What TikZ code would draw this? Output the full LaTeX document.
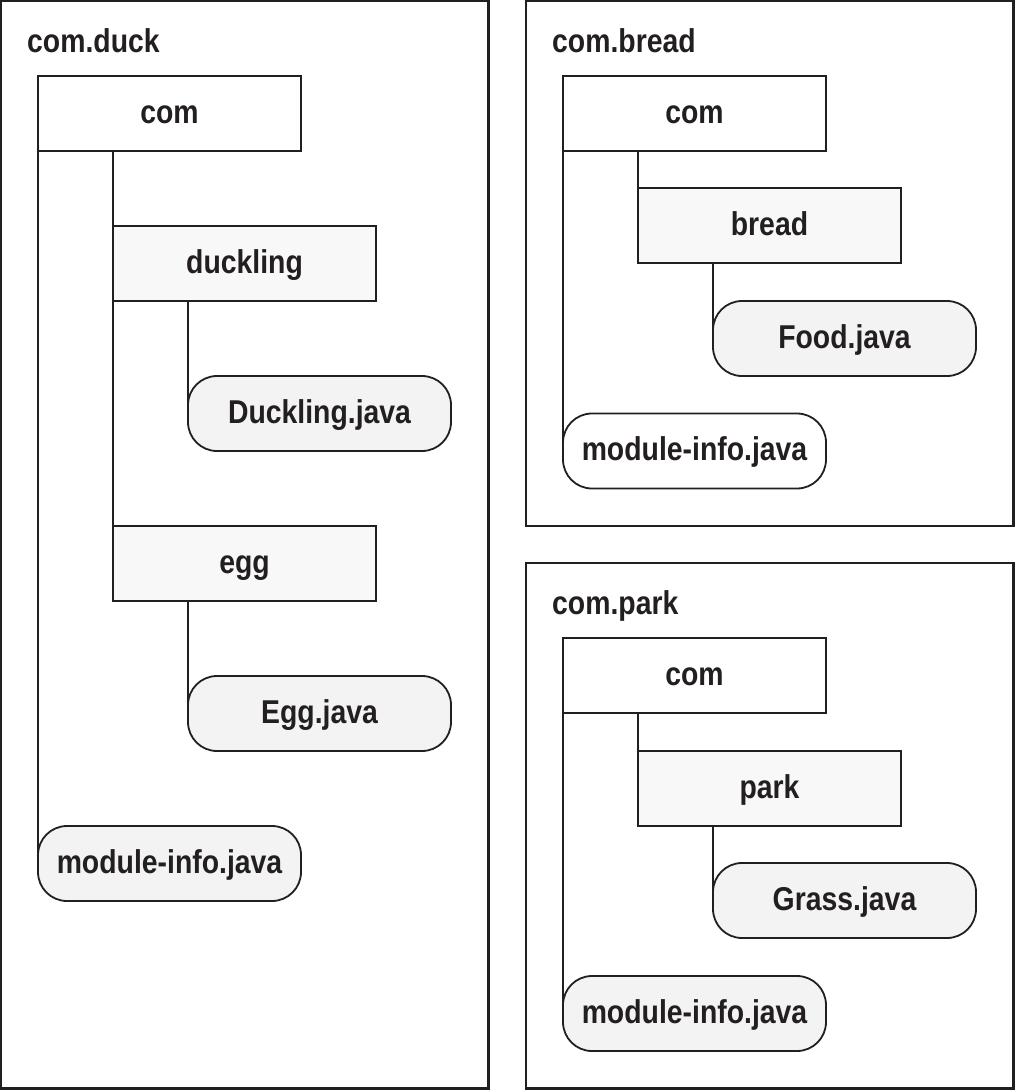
\documentclass[tikz,border=0pt]{standalone}
\usepackage{fontspec}
\setmainfont{Liberation Sans}[FakeStretch=0.86]
\usetikzlibrary{backgrounds}
\definecolor{rectfill}{HTML}{F8F8F8}
\definecolor{pillfill}{HTML}{F3F3F3}
\definecolor{ink}{HTML}{231F20}
\begin{document}
\begin{tikzpicture}[x=1pt,y=-1pt,
  every node/.style={font=\fontsize{33}{38}\selectfont\bfseries, text=ink},
  frame/.style={draw=ink, line width=2.2pt},
  dirbox/.style={draw=ink, fill=white, line width=1.8pt, minimum width=263pt, minimum height=75pt,
    inner sep=0pt, outer sep=0pt, text height=19pt, text depth=0pt},
  pkgbox/.style={dirbox, fill=rectfill},
  filepill/.style={dirbox, rounded corners=29pt, fill=pillfill},
  whitepill/.style={dirbox, rounded corners=29pt, fill=white},
  title/.style={anchor=base west, inner sep=0pt},
  link/.style={draw=ink, line width=1.3pt}]
\useasboundingbox (0,0) rectangle (1015,1090);

% frames
\draw[frame] (1.1,1.1) rectangle (488.5,1088.5);
\draw[frame] (526,1.1) rectangle (1013.5,526);
\draw[frame] (526,563) rectangle (1013.5,1088.5);

% titles
\node[title] (tduck) at (27,52) {com.duck};
\node[title] (tbread) at (552,52) {com.bread};
\node[title] (tpark) at (552,614) {com.park};

% com.duck
\node[dirbox]   (dcom)  at (169.5,113.5) {com};
\node[pkgbox]   (dduck) at (244.5,263.5) {duckling};
\node[filepill] (djava) at (319.5,413.5) {Duckling.java};
\node[pkgbox]   (degg)  at (244.5,563.5) {egg};
\node[filepill] (deggj) at (319.5,713.5) {Egg.java};
\node[filepill] (dmod)  at (169.5,863.5) {module-info.java};

% com.bread
\node[dirbox]    (bcom)   at (694.5,113.5) {com};
\node[pkgbox]    (bbread) at (769.5,225.5) {bread};
\node[filepill]  (bfood)  at (844.5,338.5) {Food.java};
\node[whitepill] (bmod)   at (694.5,451)   {module-info.java};

% com.park
\node[dirbox]   (pcom)   at (694.5,675.5)  {com};
\node[pkgbox]   (ppark)  at (769.5,788.5)  {park};
\node[filepill] (pgrass) at (844.5,900.5)  {Grass.java};
\node[filepill] (pmod)   at (694.5,1013.5) {module-info.java};

\begin{pgfonlayer}{background}
  \fill[white] (0,0) rectangle (1015,1090);
  \draw[link] (dduck.north west |- dcom.south) -- (dduck.north west);
  \draw[link] (dduck.south west) -- (degg.north west);
  \draw[link] (djava.west |- dduck.south) -- (djava.west);
  \draw[link] (deggj.west |- degg.south) -- (deggj.west);
  \draw[link] (dcom.south west) -- (dmod.west);

  \draw[link] (bbread.north west |- bcom.south) -- (bbread.north west);
  \draw[link] (bfood.west |- bbread.south) -- (bfood.west);
  \draw[link] (bcom.south west) -- (bmod.west);

  \draw[link] (ppark.north west |- pcom.south) -- (ppark.north west);
  \draw[link] (pgrass.west |- ppark.south) -- (pgrass.west);
  \draw[link] (pcom.south west) -- (pmod.west);
\end{pgfonlayer}
\end{tikzpicture}
\end{document}
